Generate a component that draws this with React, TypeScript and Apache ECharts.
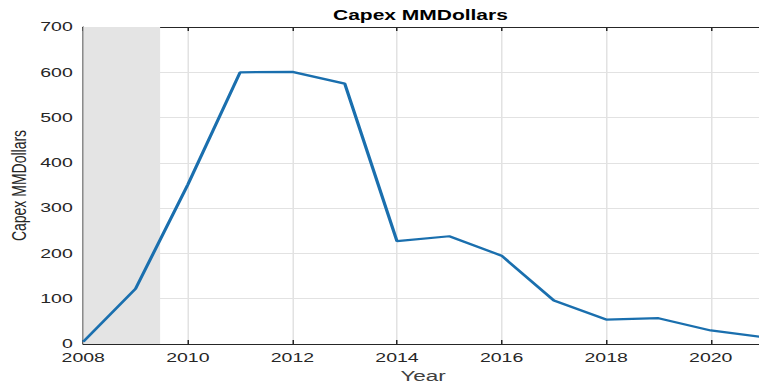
import React, { useEffect, useRef } from "react";
import * as echarts from "echarts";

const years = [2008, 2009, 2010, 2011, 2012, 2013, 2014, 2015, 2016, 2017, 2018, 2019, 2020, 2021];
const capex = [5, 122, 352, 600, 601, 575, 227, 238, 195, 96, 54, 57, 30, 15];
const shadeRange = [2008, 2009.47];
const titleText = "Capex MMDollars";
const yName = "Capex MMDollars";
const xName = "Year";

const FONT = "'Liberation Sans', Arial, Helvetica, sans-serif";
const AXIS = "#262626";

export default function App() {
  const ref = useRef<HTMLDivElement>(null);
  useEffect(() => {
    if (!ref.current) return;
    const chart = echarts.init(ref.current, undefined, { renderer: "svg" });
    chart.setOption({
      animation: false,
      backgroundColor: "#ffffff",
      title: {
        text: titleText,
        left: 222,
        top: 8,
        padding: 0,
        textStyle: { fontFamily: FONT, fontSize: 14, fontWeight: "bold", color: "#000" },
      },
      grid: {
        left: 55.5,
        right: -2.7,
        top: 27,
        bottom: 41,
        containLabel: false,
        outerBoundsMode: "none",
      },
      xAxis: [
        {
          type: "value",
          min: 2008,
          max: 2021,
          interval: 2,
          name: xName,
          nameLocation: "middle",
          nameGap: 24,
          nameMoveOverlap: false,
          nameTextStyle: { fontFamily: FONT, fontSize: 15, color: "#404040" },
          axisLine: { show: true, lineStyle: { color: AXIS, width: 1 } },
          axisTick: { show: true, inside: true, length: 4, lineStyle: { color: AXIS } },
          axisLabel: {
            showMaxLabel: false,
            margin: 7,
            fontFamily: FONT,
            fontSize: 13,
            color: AXIS,
            formatter: (v: number) => String(v),
          },
          splitLine: { show: true, lineStyle: { color: "#e2e2e2", width: 1 } },
        },
        {
          type: "value",
          position: "top",
          min: 2008,
          max: 2021,
          interval: 2,
          axisLine: { show: true, lineStyle: { color: AXIS, width: 1 } },
          axisTick: { show: true, inside: true, length: 4, lineStyle: { color: AXIS } },
          axisLabel: { show: false },
          splitLine: { show: false },
        },
      ],
      yAxis: {
        type: "value",
        min: 0,
        max: 700,
        interval: 100,
        name: yName,
        nameLocation: "middle",
        nameGap: 36,
        nameMoveOverlap: false,
        nameTextStyle: { fontFamily: FONT, fontSize: 14, color: AXIS },
        axisLine: { show: true, lineStyle: { color: AXIS, width: 1 } },
        axisTick: { show: true, inside: true, length: 4, lineStyle: { color: AXIS } },
        axisLabel: { margin: 7, fontFamily: FONT, fontSize: 13, color: AXIS },
        splitLine: { show: true, lineStyle: { color: "#e2e2e2", width: 1 } },
      },
      series: [
        {
          type: "line",
          xAxisIndex: 0,
          data: years.map((y, i) => [y, capex[i]]),
          showSymbol: false,
          lineStyle: { color: "#1a6fae", width: 2.2 },
          itemStyle: { color: "#1a6fae" },
          markArea: {
            silent: true,
            itemStyle: { color: "#e4e4e4", opacity: 1 },
            data: [[{ xAxis: shadeRange[0] }, { xAxis: shadeRange[1] }]],
          },
          z: 3,
        },
      ],
    });
    return () => chart.dispose();
  }, []);
  return (
    <div
      ref={ref}
      style={{
        position: "fixed",
        left: 0,
        top: 0,
        width: 506,
        height: 385,
        transform: "scaleX(1.5)",
        transformOrigin: "0 0",
      }}
    />
  );
}
